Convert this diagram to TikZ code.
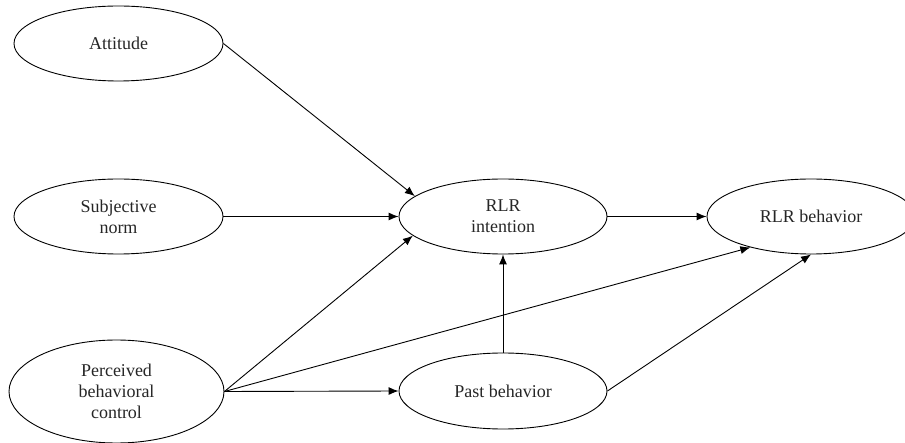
\documentclass[tikz,border=0pt]{standalone}
\usepackage{fontspec}
\setmainfont{Liberation Serif}
\usetikzlibrary{shapes.geometric,arrows.meta}
\begin{document}
\begin{tikzpicture}[x=1pt,y=-1pt,
  latent/.style={draw,ellipse,line width=0.9pt,inner sep=0pt,align=center,
    font=\fontsize{18}{21}\selectfont,text=black!85},
  conn/.style={line width=0.9pt,-{Latex[length=10pt,width=8pt]}}]
\useasboundingbox (0,0) rectangle (905,443);
\node[latent,minimum width=209pt,minimum height=75pt] (att) at (118.5,43.5) {Attitude};
\node[latent,minimum width=209pt,minimum height=75pt] (sn) at (118.5,216.5) {Subjective\\norm};
\node[latent,minimum width=215pt,minimum height=103pt] (pbc) at (116.5,391.5) {Perceived\\behavioral\\control};
\node[latent,minimum width=208pt,minimum height=75pt] (int) at (503,216.5) {RLR\\intention};
\node[latent,minimum width=208pt,minimum height=75pt] (beh) at (811,216.5) {RLR behavior};
\node[latent,minimum width=208pt,minimum height=76pt] (past) at (503,391) {Past behavior};
\draw[conn] (att.east) -- (int.167.6);
\draw[conn] (sn.east) -- (int.west);
\draw[conn] (pbc.east) -- (int.192.5);
\draw[conn] (pbc.east) -- (beh.207.7);
\draw[conn] (pbc.east) -- (past.west);
\draw[conn] (past.north) -- (int.south);
\draw[conn] (int.east) -- (beh.west);
\draw[conn] (past.east) -- (beh.south);
\end{tikzpicture}
\end{document}
